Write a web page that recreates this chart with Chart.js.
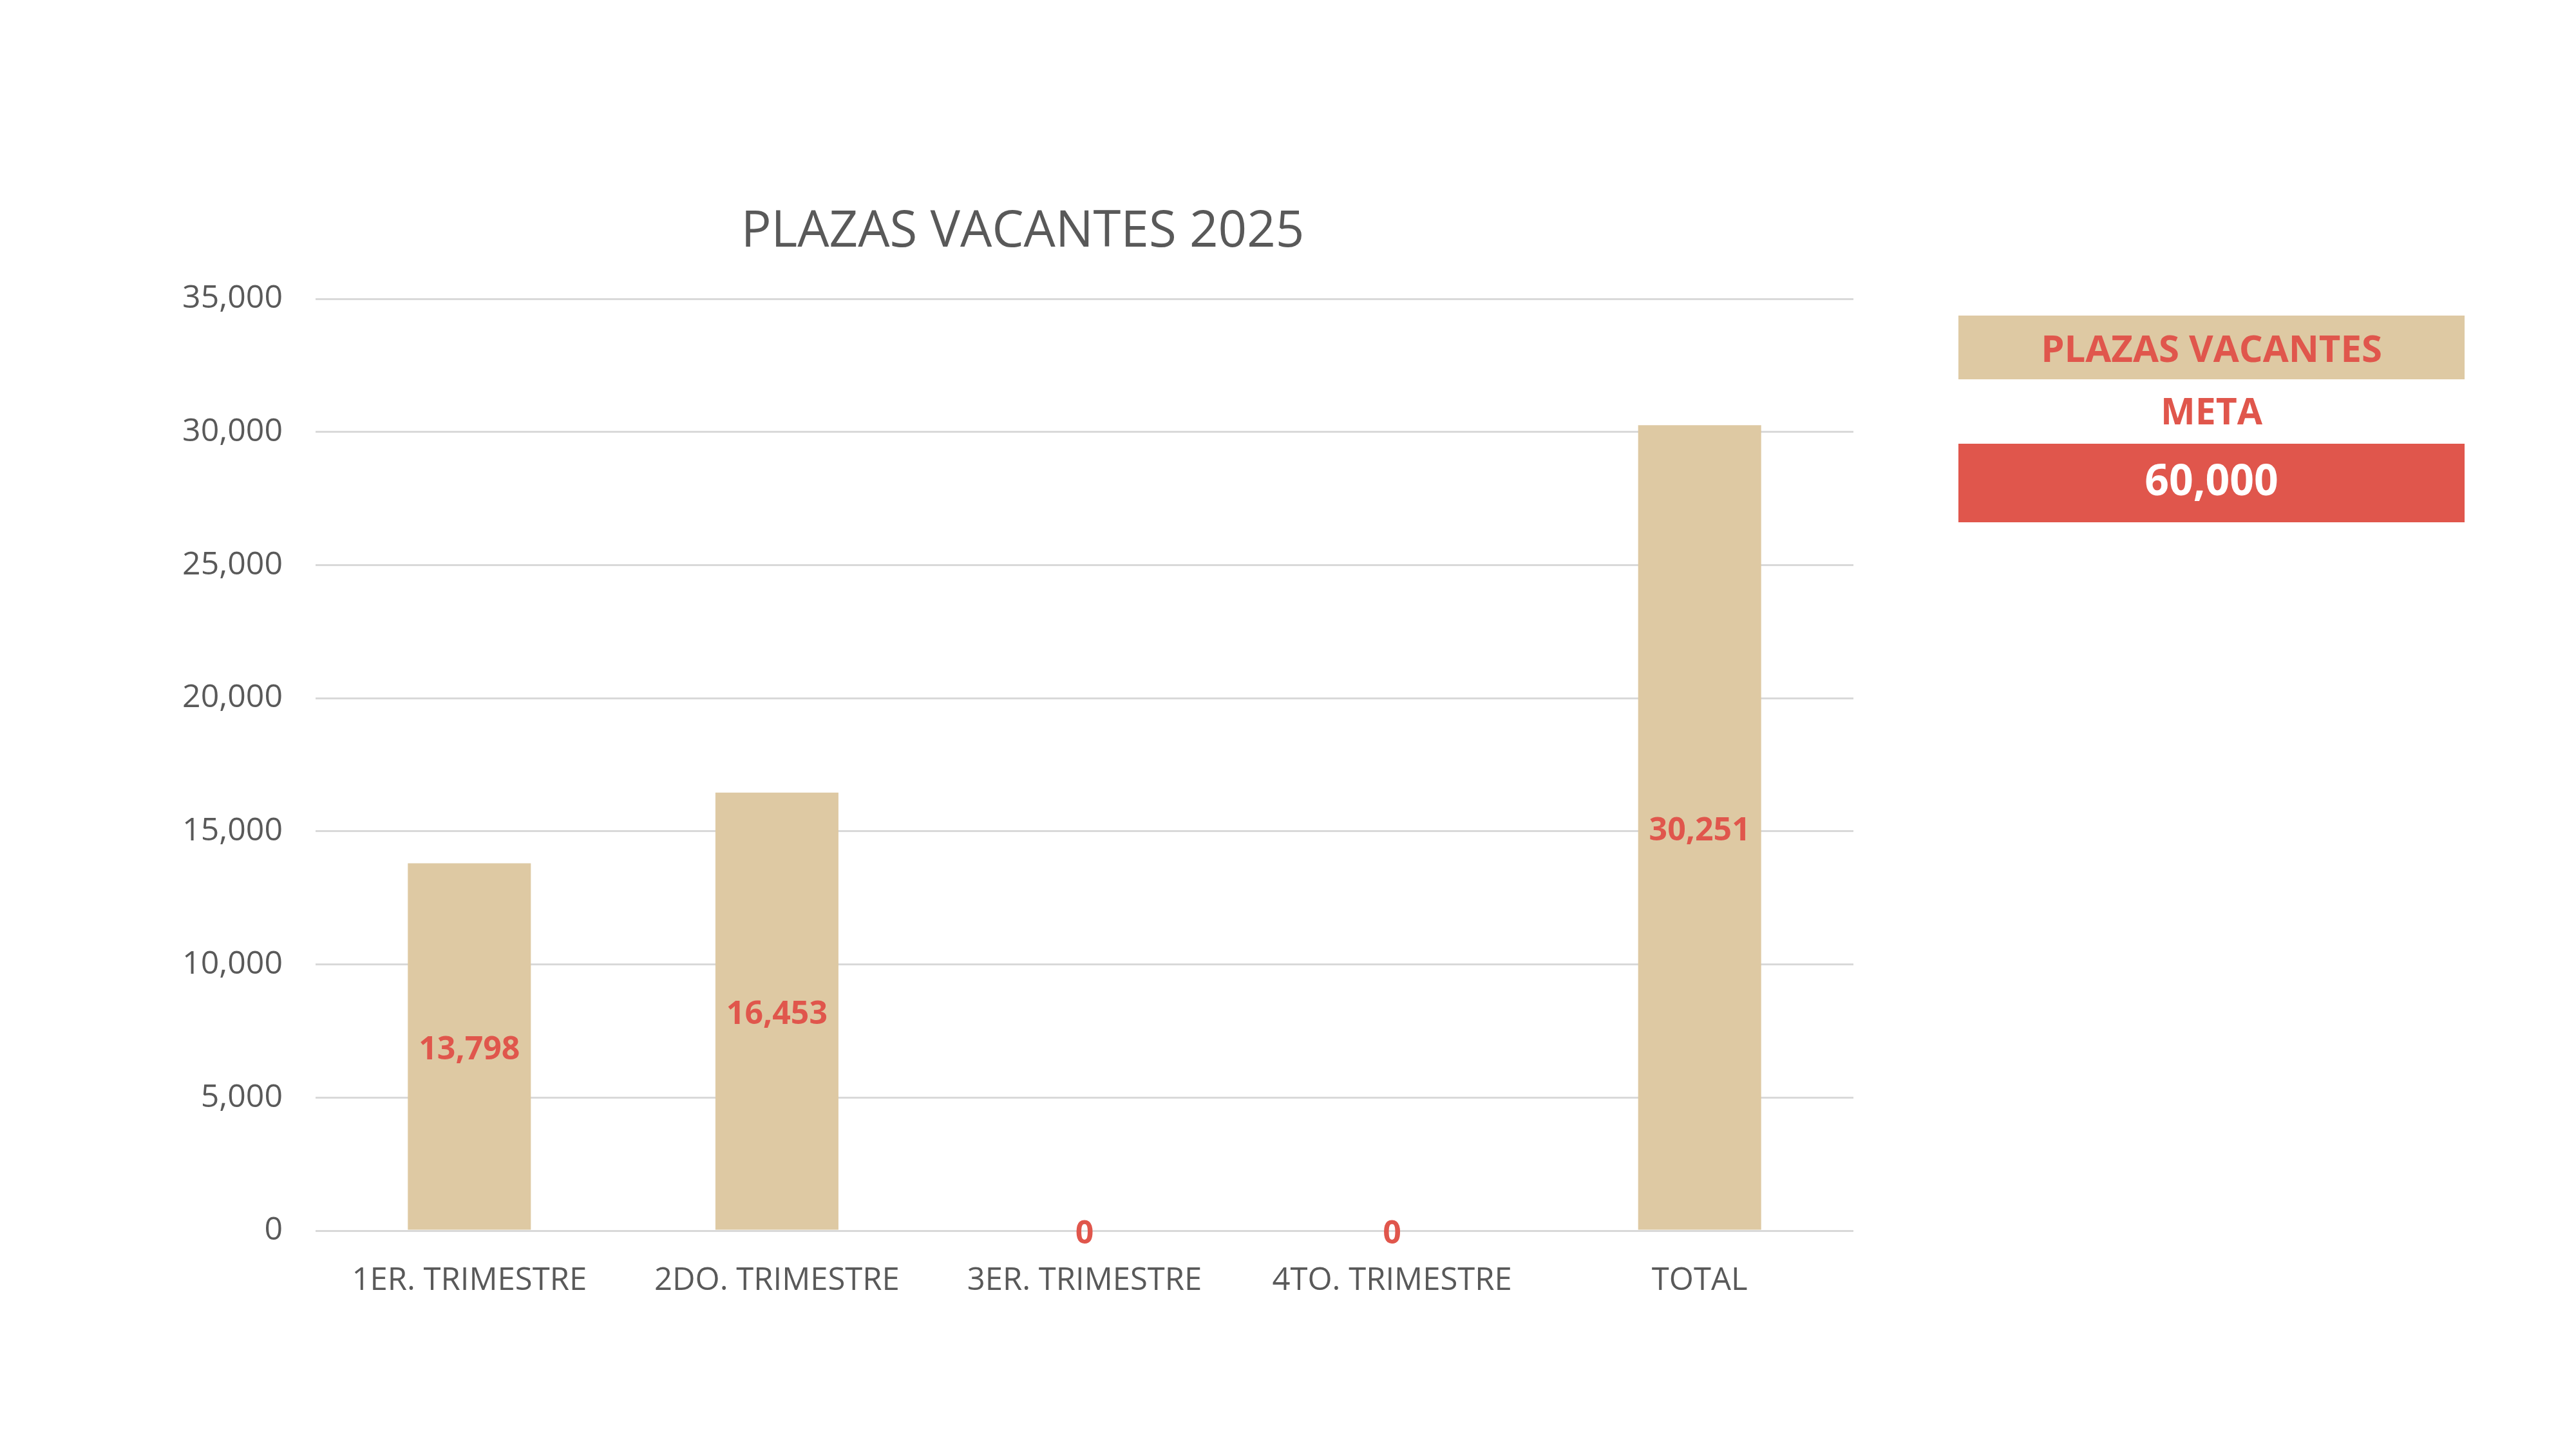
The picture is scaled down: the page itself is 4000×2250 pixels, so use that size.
<!DOCTYPE html>
<html>
<head>
<meta charset="utf-8">
<script src="https://cdn.jsdelivr.net/npm/chart.js@4/dist/chart.umd.min.js"></script>
<style>
  html, body { margin: 0; padding: 0; background: #fff; }
  #wrap { position: relative; width: 4000px; height: 2250px; }
  #chart { position: absolute; left: 0; top: 0; }
  .box { position: absolute; left: 3041px; width: 786px; text-align: center;
         font-family: 'Open Sans', sans-serif; font-weight: 700; }
  #box-title { top: 490px; height: 99px; line-height: 99px; background: #DEC9A3; color: #E0564C; font-size: 58px; }
  #box-meta { top: 598px; height: 78px; line-height: 78px; color: #E0564C; font-size: 57px; }
  #box-value { top: 689px; height: 122px; line-height: 108px; background: #E0564C; color: #fff; font-size: 66px; }
</style>
</head>
<body>
<div id="wrap">
  <canvas id="chart" width="4000" height="2250"></canvas>
  <div class="box" id="box-title"></div>
  <div class="box" id="box-meta"></div>
  <div class="box" id="box-value"></div>
</div>
<script>
/* ============================
   PLAZAS VACANTES 2025 — bar chart
   ============================ */

const chartTitle = 'PLAZAS VACANTES 2025';
const categories = ['1ER. TRIMESTRE', '2DO. TRIMESTRE', '3ER. TRIMESTRE', '4TO. TRIMESTRE', 'TOTAL'];
const plazas = [13798, 16453, 0, 0, 30251];
const yTicks = [0, 5000, 10000, 15000, 20000, 25000, 30000, 35000];

// side panel
const panelLabel = 'PLAZAS VACANTES';
const metaLabel = 'META';
const metaValue = 60000;

const fmt = v => Number(v).toLocaleString('en-US');

document.getElementById('box-title').textContent = panelLabel;
document.getElementById('box-meta').textContent = metaLabel;
document.getElementById('box-value').textContent = fmt(metaValue);

// title centred over axis labels + plot (Excel style), not just the plot
const titlePlugin = {
  id: 'excelTitle',
  afterDraw(chart) {
    const ctx = chart.ctx;
    const left = chart.chartArea.left - 192;   // include y tick label column
    ctx.save();
    ctx.font = '78px "Open Sans"';
    ctx.fillStyle = '#595959';
    ctx.textAlign = 'center';
    ctx.textBaseline = 'middle';
    ctx.fillText(chartTitle, (left + chart.chartArea.right) / 2, chart.chartArea.top - 103);
    ctx.restore();
  }
};

// value labels centred in each bar
const barLabels = {
  id: 'barLabels',
  afterDatasetsDraw(chart) {
    const ctx = chart.ctx;
    const meta = chart.getDatasetMeta(0);
    ctx.save();
    ctx.font = 'bold 50px "Open Sans"';
    ctx.fillStyle = '#E0564C';
    ctx.textAlign = 'center';
    ctx.textBaseline = 'middle';
    meta.data.forEach((bar, i) => {
      const y = (bar.y + bar.base) / 2 + 6;
      ctx.fillText(fmt(plazas[i]), bar.x, y);
    });
    ctx.restore();
  }
};

new Chart(document.getElementById('chart'), {
  type: 'bar',
  data: {
    labels: categories,
    datasets: [{
      label: 'Plazas',
      data: plazas,
      backgroundColor: '#DEC9A3',
      borderWidth: 0,
      categoryPercentage: 0.8,
      barPercentage: 0.5
    }]
  },
  options: {
    responsive: false,
    animation: false,
    layout: { padding: { left: 250, right: 1122, top: 464, bottom: 219 } },
    plugins: {
      legend: { display: false },
      tooltip: { enabled: false },
      title: { display: false }
    },
    scales: {
      x: {
        grid: { display: false, drawTicks: false },
        border: { display: false },
        ticks: { color: '#595959', font: { family: 'Open Sans', size: 49 }, padding: 49, maxRotation: 0 },
        afterFit(scale) { scale.height = 120; }
      },
      y: {
        min: 0,
        max: 35000,
        afterBuildTicks(scale) { scale.ticks = yTicks.map(v => ({ value: v })); },
        grid: { color: '#D9D9D9', lineWidth: 3, drawTicks: false },
        border: { display: false },
        ticks: { color: '#595959', font: { family: 'Open Sans', size: 50 }, padding: 51, callback: v => fmt(v) },
        afterFit(scale) { scale.width = 240; }
      }
    }
  },
  plugins: [barLabels, titlePlugin]
});
</script>
</body>
</html>
